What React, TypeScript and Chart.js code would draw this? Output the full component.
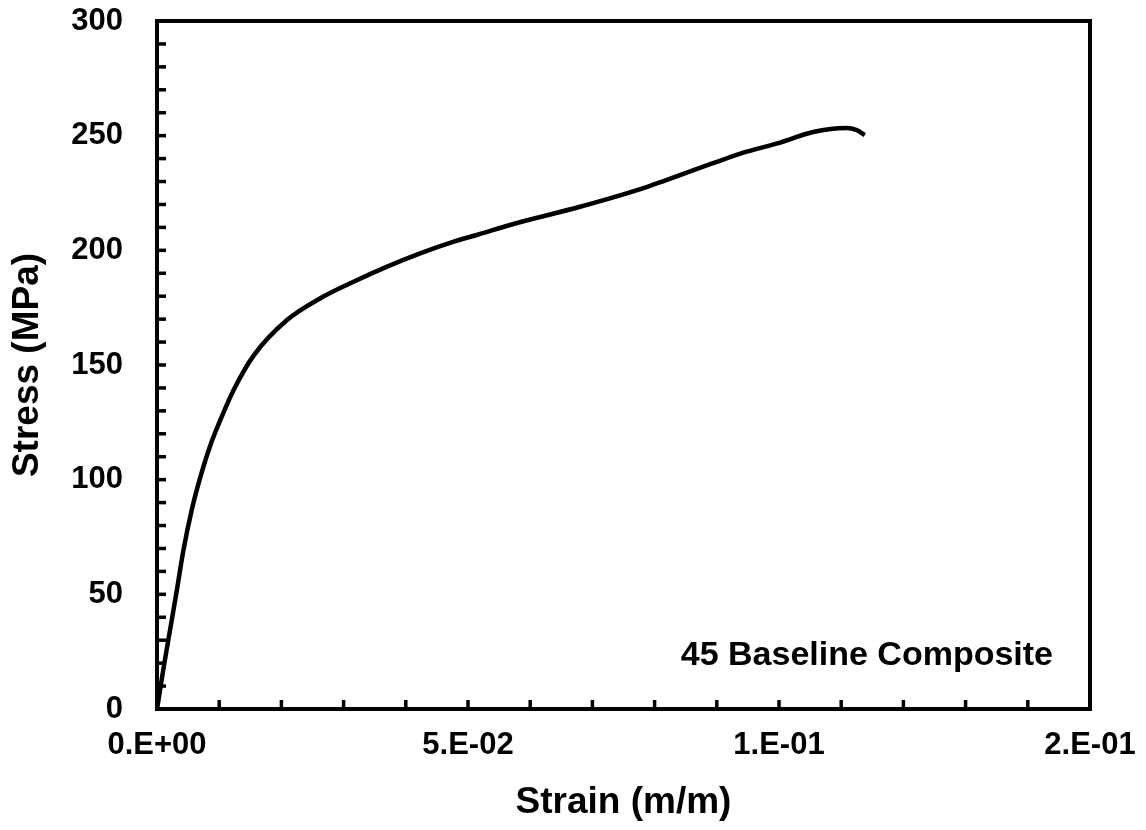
import React, { useEffect, useRef } from "react";
import { Chart, registerables } from "chart.js";

Chart.register(...registerables);

// Strain (m/m)
const strain = [
  0, 0.0002, 0.001, 0.0021, 0.0032, 0.0042, 0.0056, 0.0069, 0.0085, 0.0104,
  0.0123, 0.0155, 0.0209, 0.0262, 0.0316, 0.0369, 0.0423, 0.0476, 0.0514,
  0.0573, 0.068, 0.0787, 0.0894, 0.0948, 0.1002, 0.1055, 0.1109, 0.1125,
  0.1138,
];
// Stress (MPa)
const stress = [
  0, 3.2, 17, 34.5, 51.9, 68.5, 87, 100.5, 114.4, 127.4, 139, 154, 169.6,
  179, 186.3, 192.8, 198.7, 203.7, 206.7, 211.5, 219, 227.6, 238, 243, 247,
  251.6, 253.3, 252.4, 250.3,
];

const xMajorValues = [0, 0.05, 0.1, 0.15];
const xTickLabels = ["0.E+00", "5.E-02", "1.E-01", "2.E-01"];
const yMajorValues = [0, 50, 100, 150, 200, 250, 300];
const yTickLabels = ["0", "50", "100", "150", "200", "250", "300"];

const seriesLabel = "45 Baseline Composite";
const xTitle = "Strain (m/m)";
const yTitle = "Stress (MPa)";

const FONT = "'Liberation Sans', Arial, sans-serif";

const framePlugin = {
  id: "frame",
  afterDraw(chart: any) {
    const { ctx, chartArea } = chart;
    const { left, top, right, bottom } = chartArea;
    ctx.save();
    ctx.strokeStyle = "#000";
    // ticks (inward)
    ctx.lineWidth = 3.5;
    const xs = chart.scales.x;
    const ys = chart.scales.y;
    xs.ticks.forEach((t: any) => {
      const px = xs.getPixelForValue(t.value);
      ctx.beginPath();
      ctx.moveTo(px, bottom);
      ctx.lineTo(px, bottom - 9);
      ctx.stroke();
    });
    ys.ticks.forEach((t: any) => {
      const py = ys.getPixelForValue(t.value);
      ctx.beginPath();
      ctx.moveTo(left, py);
      ctx.lineTo(left + 9, py);
      ctx.stroke();
    });
    // frame
    ctx.lineWidth = 4;
    ctx.strokeRect(left, top, right - left, bottom - top);
    // annotation
    ctx.fillStyle = "#000";
    ctx.font = `bold 34px ${FONT}`;
    ctx.textAlign = "right";
    ctx.textBaseline = "middle";
    ctx.fillText(seriesLabel, right - 37, bottom - 53);
    ctx.restore();
  },
};

function findLabel(v: number, values: number[], labels: string[]) {
  for (let i = 0; i < values.length; i++) {
    if (Math.abs(values[i] - v) < 1e-9) return labels[i];
  }
  return "";
}

export default function App() {
  const ref = useRef<HTMLCanvasElement | null>(null);
  useEffect(() => {
    if (!ref.current) return;
    const data = strain.map((x, i) => ({ x, y: stress[i] }));
    const chart = new Chart(ref.current, {
      type: "scatter",
      data: {
        datasets: [
          {
            label: seriesLabel,
            data,
            showLine: true,
            borderColor: "#000",
            borderWidth: 4.5,
            pointRadius: 0,
            cubicInterpolationMode: "monotone",
            fill: false,
          } as any,
        ],
      },
      options: {
        responsive: false,
        animation: false,
        layout: { padding: { top: 21, right: 56, left: 0, bottom: 0 } },
        plugins: {
          legend: { display: false },
          tooltip: { enabled: false },
        },
        scales: {
          x: {
            type: "linear",
            min: 0,
            max: 0.15,
            afterBuildTicks: (scale: any) => {
              const ticks = [];
              for (let i = 0; i <= 15; i++) ticks.push({ value: i / 100 });
              scale.ticks = ticks;
            },
            afterFit: (scale: any) => {
              scale.height = 121;
              scale.paddingLeft = 0;
              scale.paddingRight = 0;
              scale.paddingTop = 0;
              scale.paddingBottom = 0;
            },
            grid: { display: false, drawTicks: false },
            border: { display: false },
            ticks: {
              autoSkip: false,
              maxRotation: 0,
              padding: 18,
              color: "#000",
              font: { family: FONT, size: 31, weight: "bold" },
              callback: (v: any) => findLabel(Number(v), xMajorValues, xTickLabels),
            },
            title: {
              display: true,
              text: xTitle,
              color: "#000",
              font: { family: FONT, size: 37, weight: "bold" },
              padding: { top: 0, bottom: 5 },
            },
          },
          y: {
            type: "linear",
            min: 0,
            max: 300,
            afterBuildTicks: (scale: any) => {
              const ticks = [];
              for (let i = 0; i <= 30; i++) ticks.push({ value: i * 10 });
              scale.ticks = ticks;
            },
            afterFit: (scale: any) => {
              scale.width = 157;
              scale.paddingLeft = 0;
              scale.paddingRight = 0;
              scale.paddingTop = 0;
              scale.paddingBottom = 0;
            },
            grid: { display: false, drawTicks: false },
            border: { display: false },
            ticks: {
              autoSkip: false,
              padding: 34,
              color: "#000",
              font: { family: FONT, size: 31, weight: "bold" },
              callback: (v: any) => findLabel(Number(v), yMajorValues, yTickLabels),
            },
            title: {
              display: true,
              text: yTitle,
              color: "#000",
              font: { family: FONT, size: 37, weight: "bold" },
              padding: { top: 6, bottom: 0 },
            },
          },
        },
      } as any,
      plugins: [framePlugin],
    });
    return () => chart.destroy();
  }, []);
  return (
    <div style={{ position: "absolute", left: 0, top: 0, width: 1146, height: 830, background: "#fff" }}>
      <canvas ref={ref} width={1146} height={830} style={{ width: 1146, height: 830 }} />
    </div>
  );
}
